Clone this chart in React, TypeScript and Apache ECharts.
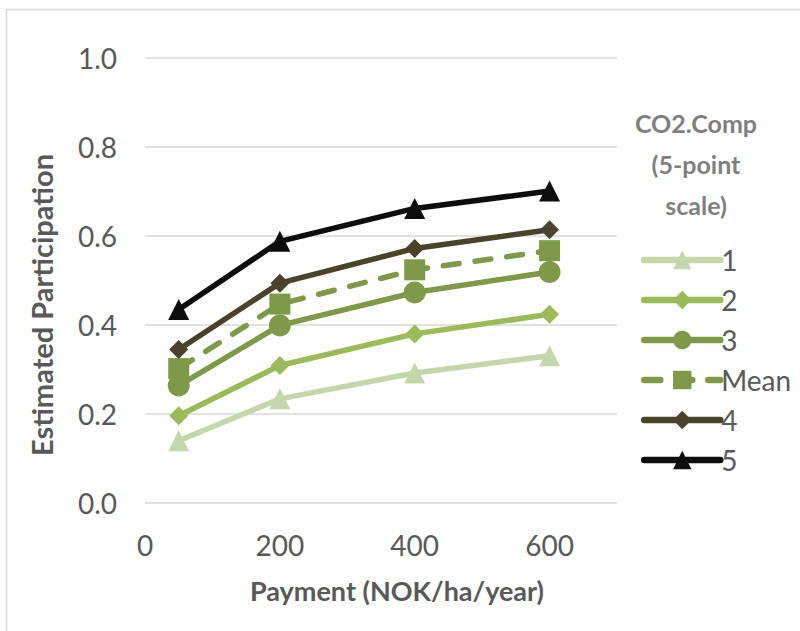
import React, { useEffect, useRef } from "react";
import * as echarts from "echarts";

const payments = [50, 200, 400, 600];
const seriesNames = ["1", "2", "3", "Mean", "4", "5"];
const s1 = [0.14, 0.234, 0.292, 0.331];
const s2 = [0.196, 0.309, 0.38, 0.424];
const s3 = [0.264, 0.399, 0.473, 0.519];
const sMean = [0.302, 0.447, 0.524, 0.567];
const s4 = [0.345, 0.494, 0.572, 0.614];
const s5 = [0.435, 0.588, 0.662, 0.701];
const yTicks = [0, 0.2, 0.4, 0.6, 0.8, 1.0];
const xTicks = [0, 200, 400, 600];
const xTitle = "Payment (NOK/ha/year)";
const yTitle = "Estimated Participation";
const legendTitle = "CO2.Comp\n(5-point\nscale)";

const FONT = "Lato, 'Open Sans', sans-serif";

export default function App() {
  const ref = useRef<HTMLDivElement>(null);
  useEffect(() => {
    if (!ref.current) return;
    const chart = echarts.init(ref.current, null, { renderer: "svg" });
    const values = [s1, s2, s3, sMean, s4, s5];
    const colors = ["#c4d7ab", "#9bbb59", "#7e9a48", "#7e9a48", "#4a4229", "#0d0d0d"];
    const symbols = ["triangle", "diamond", "circle", "rect", "diamond", "triangle"];
    const sizes = [21, 19, 22, 21, 19, 21];
    const series = seriesNames.map((name, i) => ({
      name,
      type: "line",
      data: payments.map((p, j) => [p, values[i][j]]),
      symbol: symbols[i],
      symbolSize: sizes[i],
      showSymbol: true,
      lineStyle: {
        color: colors[i],
        width: 5.5,
        type: name === "Mean" ? [16, 16] : "solid",
        cap: "round",
      },
      itemStyle: { color: colors[i] },
      emphasis: { disabled: true },
      z: 2 + i,
    }));
    chart.setOption({
      animation: false,
      backgroundColor: "#ffffff",
      textStyle: { fontFamily: FONT },
      grid: { left: 145, right: 183, top: 58, bottom: 128 },
      xAxis: {
        type: "value",
        min: 0,
        max: 700,
        interval: 200,
        axisLine: { show: false },
        axisTick: { show: false },
        splitLine: { show: false },
        axisLabel: {
          fontSize: 28,
          color: "#595959",
          margin: 28,
          fontFamily: FONT,
          showMaxLabel: false,
          formatter: (v: number) => (xTicks.includes(v) ? String(v) : ""),
        },
      },
      yAxis: {
        type: "value",
        min: 0,
        max: 1,
        interval: 0.2,
        axisLine: { show: false },
        axisTick: { show: false },
        splitLine: { show: true, lineStyle: { color: "#d9d9d9", width: 1.5 } },
        axisLabel: {
          fontSize: 28,
          color: "#595959",
          margin: 28,
          fontFamily: FONT,
          formatter: (v: number) => {
            const t = yTicks.find((k) => Math.abs(k - v) < 1e-6);
            return t === undefined ? "" : t.toFixed(1);
          },
        },
      },
      legend: {
        orient: "vertical",
        left: 636,
        top: 241,
        itemWidth: 76,
        itemHeight: 23,
        itemGap: 12,
        data: seriesNames,
        lineStyle: { width: 6.5 },
        textStyle: { fontSize: 28, color: "#595959", fontFamily: FONT, padding: [0, 0, 0, -4] },
        selectedMode: false,
      },
      graphic: [
        {
          type: "rect",
          shape: { x: 6.5, y: 9.5, width: 900, height: 800 },
          style: { fill: "none", stroke: "#d9d9d9", lineWidth: 1.5 },
          silent: true,
        },
        {
          type: "text",
          x: 696,
          y: 102,
          style: {
            text: legendTitle,
            textAlign: "center",
            textVerticalAlign: "top",
            fontSize: 25,
            fontWeight: "bold",
            fill: "#7f7f7f",
            lineHeight: 41,
            fontFamily: FONT,
          },
        },
        {
          type: "text",
          x: 397,
          y: 590,
          style: {
            text: xTitle,
            textAlign: "center",
            textVerticalAlign: "middle",
            fontSize: 27,
            fontWeight: "bold",
            fill: "#595959",
            fontFamily: FONT,
          },
        },
        {
          type: "text",
          x: 41,
          y: 305,
          rotation: Math.PI / 2,
          style: {
            text: yTitle,
            textAlign: "center",
            textVerticalAlign: "middle",
            fontSize: 29,
            fontWeight: "bold",
            fill: "#595959",
            fontFamily: FONT,
          },
        },
      ],
      series,
    });
    return () => chart.dispose();
  }, []);
  return (
    <div
      ref={ref}
      style={{ position: "fixed", left: 0, top: 0, width: 800, height: 631, background: "#fff" }}
    />
  );
}
